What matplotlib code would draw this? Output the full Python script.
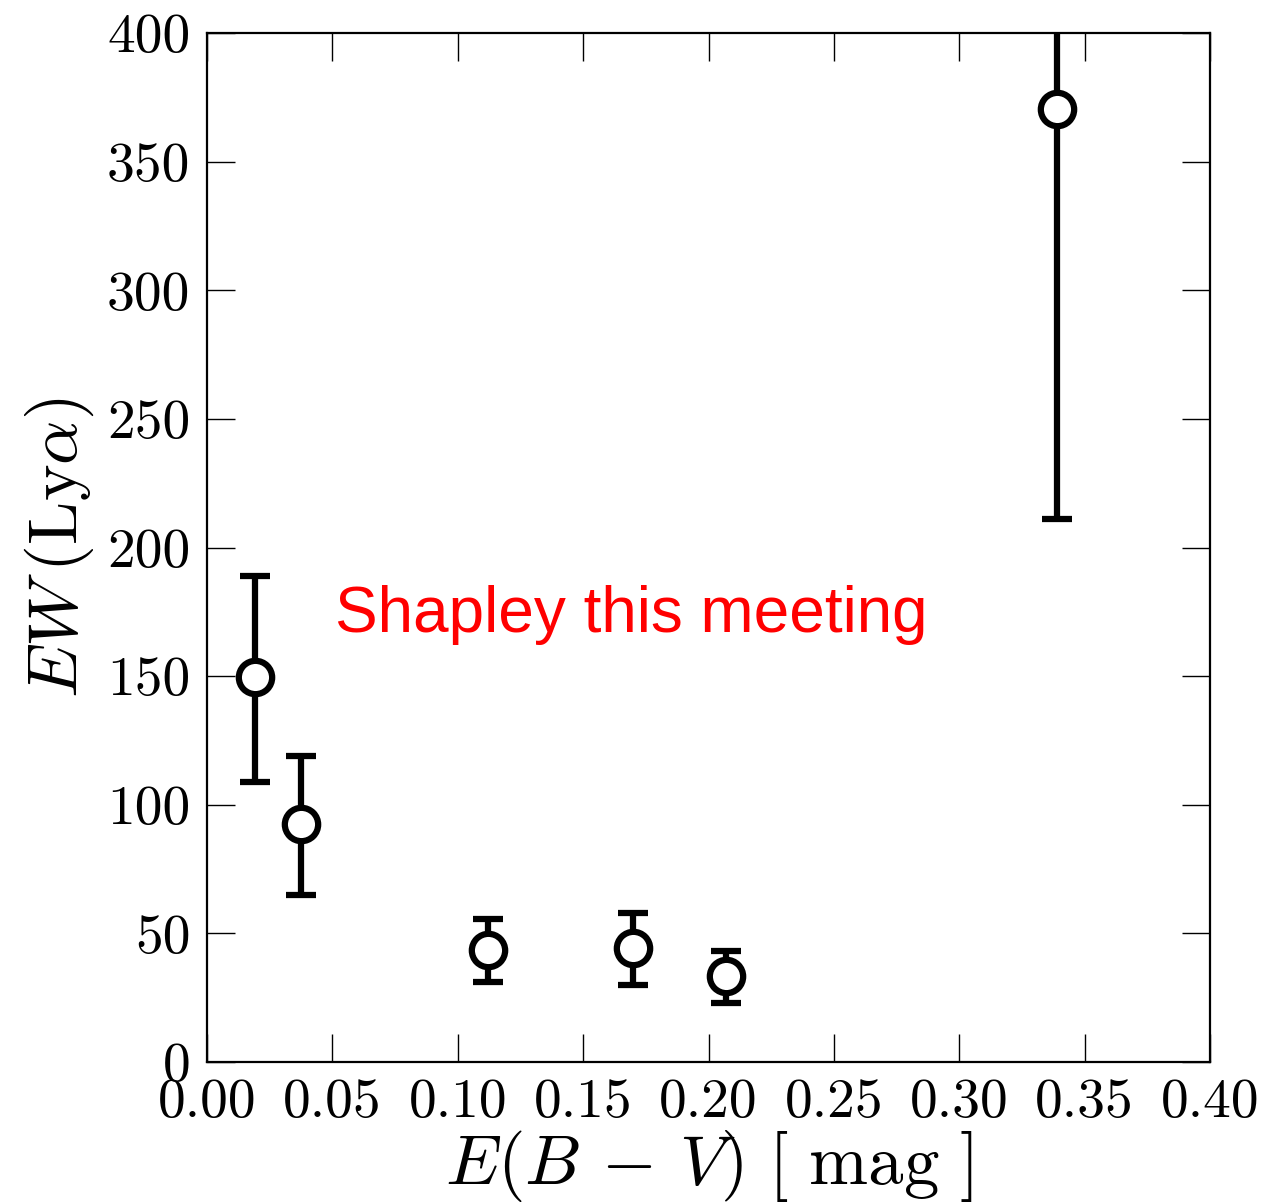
import matplotlib
matplotlib.use('Agg')
import matplotlib.pyplot as plt
import numpy as np

plt.rcParams['font.family'] = 'serif'
plt.rcParams['font.serif'] = ['cmr10']
plt.rcParams['mathtext.fontset'] = 'cm'
plt.rcParams['axes.formatter.use_mathtext'] = True

# data
ebv = np.array([0.019, 0.0375, 0.112, 0.170, 0.207, 0.339])
ew = np.array([149.5, 92.5, 43.5, 44.5, 33.5, 370.5])
ew_lo = np.array([109, 65, 31, 30, 23, 211])
ew_hi = np.array([189, 119, 55.5, 58, 43, 450])

yerr = np.vstack((ew - ew_lo, ew_hi - ew))

fig = plt.figure(figsize=(12.74, 12.02), dpi=100)
ax = fig.add_axes([0.1625, 0.1165, 0.7873, 0.856])

ax.errorbar(ebv, ew, yerr=yerr, fmt='o', color='black', ecolor='black',
            elinewidth=4.5, capsize=11, capthick=4.5,
            markersize=24, markerfacecolor='white', markeredgecolor='black',
            markeredgewidth=4.5)

ax.set_xlim(0, 0.40)
ax.set_ylim(0, 400)
ax.set_xticks(np.arange(0, 0.401, 0.05))
ax.set_yticks(np.arange(0, 401, 50))
ax.xaxis.set_major_formatter(matplotlib.ticker.FormatStrFormatter('%.2f'))
ax.yaxis.set_major_formatter(matplotlib.ticker.FormatStrFormatter('%d'))
ax.tick_params(direction='in', length=20, width=1.0, labelsize=40,
               top=True, right=True, pad=12)
for s in ax.spines.values():
    s.set_linewidth(1.6)

ax.set_xlabel(r'$E(B\,-\,V)\ [\ \mathrm{mag}\ ]$', fontsize=51, labelpad=0)
ax.set_ylabel(r'$EW\,(\mathrm{Ly}\alpha)$', fontsize=50, labelpad=8)

ax.text(0.1276, 0.418, 'Shapley this meeting', transform=ax.transAxes,
        color='red', fontsize=46, family='Liberation Sans', va='baseline')

fig.savefig('out.png', dpi=100)
